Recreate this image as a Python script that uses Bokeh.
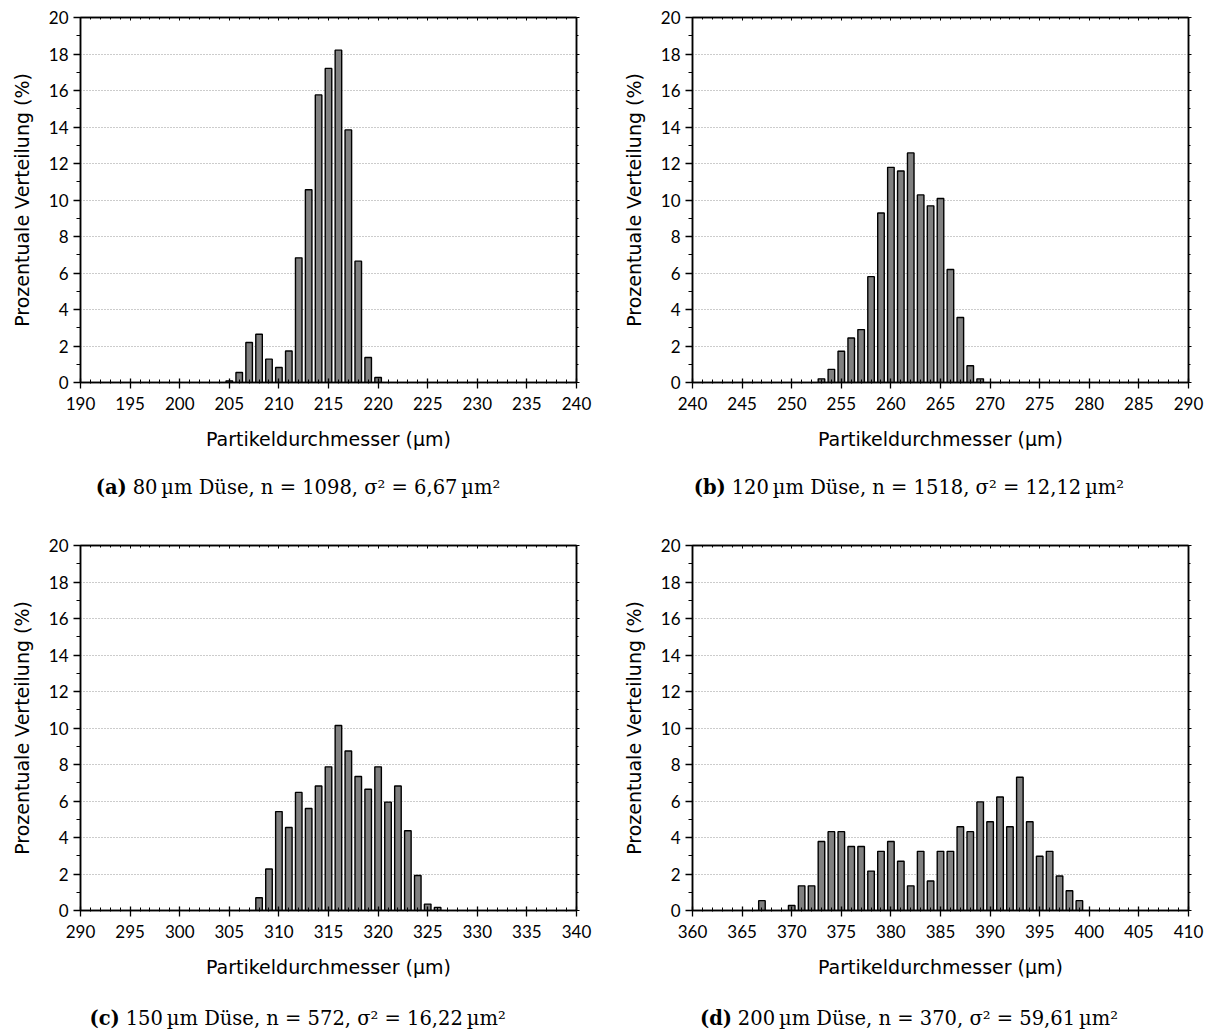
from bokeh.plotting import figure
from bokeh.models import (Range1d, SingleIntervalTicker, LinearAxis, Label)
from bokeh.layouts import column, row
from bokeh.embed import file_html
from bokeh.resources import INLINE

# ---------------- data ----------------
x_a = [205, 206, 207, 208, 209, 210, 211, 212, 213, 214, 215, 216, 217, 218, 219, 220]
y_a = [0.09, 0.55, 2.19, 2.64, 1.28, 0.82, 1.73, 6.83, 10.56, 15.76, 17.21, 18.21,
       13.84, 6.65, 1.37, 0.27]

x_b = [253, 254, 255, 256, 257, 258, 259, 260, 261, 262, 263, 264, 265, 266, 267, 268, 269]
y_b = [0.20, 0.72, 1.71, 2.44, 2.90, 5.80, 9.29, 11.79, 11.59, 12.58, 10.28, 9.68,
       10.08, 6.19, 3.56, 0.92, 0.20]

x_c = [308, 309, 310, 311, 312, 313, 314, 315, 316, 317, 318, 319, 320, 321, 322,
       323, 324, 325, 326]
y_c = [0.70, 2.27, 5.42, 4.55, 6.47, 5.59, 6.82, 7.87, 10.14, 8.74, 7.34, 6.64,
       7.87, 5.94, 6.82, 4.37, 1.92, 0.35, 0.17]

x_d = [367, 370, 371, 372, 373, 374, 375, 376, 377, 378, 379, 380, 381, 382, 383,
       384, 385, 386, 387, 388, 389, 390, 391, 392, 393, 394, 395, 396, 397, 398, 399]
y_d = [0.54, 0.27, 1.35, 1.35, 3.78, 4.32, 4.32, 3.51, 3.51, 2.16, 3.24, 3.78, 2.70,
       1.35, 3.24, 1.62, 3.24, 3.24, 4.59, 4.32, 5.95, 4.86, 6.22, 4.59, 7.30, 4.86,
       2.97, 3.24, 1.89, 1.08, 0.54]

x_starts = [190, 240, 290, 360]
cap_bold = ["(a)", "(b)", "(c)", "(d)"]
cap_text = ["80\u2009µm Düse, n = 1098, σ² = 6,67\u2009µm²",
            "120\u2009µm Düse, n = 1518, σ² = 12,12\u2009µm²",
            "150\u2009µm Düse, n = 572, σ² = 16,22\u2009µm²",
            "200\u2009µm Düse, n = 370, σ² = 59,61\u2009µm²"]
x_label = "Partikeldurchmesser (µm)"
y_label = "Prozentuale Verteilung (%)"

SANS = "Lato"
LABEL_FONT = "DejaVu Sans"
SERIF = "DejaVu Serif"
CAP_SIZE = 19.5
FRAME_H = 365
FRAME_W = 496
PLOT_H = 465

# approximate DejaVu Serif advance widths (em) for centring the two-part captions
W_REG = {" ": 0.318, "\u2009": 0.2, "µ": 0.64, "m": 0.948, "D": 0.77, "ü": 0.64,
         "s": 0.513, "e": 0.592, ",": 0.318, "n": 0.64, "=": 0.838, "σ": 0.612,
         "²": 0.401}
W_BOLD = {"(": 0.473, ")": 0.473, "a": 0.675, "b": 0.716, "c": 0.593, "d": 0.716}


def text_w(s, table):
    return sum(table.get(ch, 0.636) for ch in s) * CAP_SIZE


def make(xs, ys, x0, left_b):
    right_b = 608 - FRAME_W - left_b
    p = figure(width=608, height=PLOT_H, output_backend="svg", toolbar_location=None,
               x_range=Range1d(x0, x0 + 50), y_range=Range1d(0, 20),
               min_border_left=left_b, min_border_right=right_b,
               min_border_top=17, min_border_bottom=PLOT_H - 17 - FRAME_H,
               background_fill_color="white", border_fill_color="white")
    p.vbar(x=xs, top=ys, width=0.66, fill_color="#808080",
           line_color="black", line_width=1.4)

    p.xgrid.visible = False
    p.ygrid.ticker = SingleIntervalTicker(interval=2, num_minor_ticks=2)
    p.ygrid.grid_line_color = "#999999"
    p.ygrid.grid_line_dash = "1 2"
    p.ygrid.grid_line_width = 1

    p.outline_line_color = "black"
    p.outline_line_width = 1.5
    p.outline_line_alpha = 1

    xa = p.xaxis[0]
    xa.ticker = SingleIntervalTicker(interval=5, num_minor_ticks=5)
    xa.axis_label = x_label
    xa.major_tick_in = 4
    xa.major_tick_out = 6
    xa.minor_tick_in = 3
    xa.minor_tick_out = 1
    xa.major_label_standoff = 8
    xa.axis_label_standoff = 15

    ya = p.yaxis[0]
    ya.ticker = SingleIntervalTicker(interval=2, num_minor_ticks=2)
    ya.axis_label = y_label
    ya.major_tick_in = 0
    ya.major_tick_out = 7
    ya.minor_tick_in = 0
    ya.minor_tick_out = 4
    ya.major_label_standoff = 5
    ya.axis_label_standoff = 13

    for ax in (xa, ya):
        ax.axis_line_color = "black"
        ax.axis_line_width = 1.5
        ax.major_tick_line_color = "black"
        ax.minor_tick_line_color = "black"
        ax.major_tick_line_width = 1.3
        ax.minor_tick_line_width = 1
        ax.major_label_text_font = SANS
        ax.major_label_text_font_size = "17px"
        ax.major_label_text_color = "black"
        ax.axis_label_text_font = LABEL_FONT
        ax.axis_label_text_font_size = "19px"
        ax.axis_label_text_font_style = "normal"
        ax.axis_label_text_color = "black"

    top = LinearAxis(ticker=SingleIntervalTicker(interval=5, num_minor_ticks=5),
                     major_label_text_font_size="1px", major_label_text_color=None,
                     major_label_standoff=0,
                     major_tick_in=3, major_tick_out=0, minor_tick_in=2, minor_tick_out=0,
                     axis_line_color="black", axis_line_width=1.5)
    right = LinearAxis(ticker=SingleIntervalTicker(interval=2, num_minor_ticks=2),
                       major_label_text_font_size="1px", major_label_text_color=None,
                       major_label_standoff=0,
                       major_tick_in=0, major_tick_out=3, minor_tick_in=0, minor_tick_out=2,
                       axis_line_color="black", axis_line_width=1.5)
    p.add_layout(top, "above")
    p.add_layout(right, "right")
    return p


def caption(bold, text, h, baseline_from_top, center_px):
    c = figure(width=608, height=h, output_backend="svg", toolbar_location=None,
               x_range=Range1d(0, 608), y_range=Range1d(0, h),
               x_axis_type=None, y_axis_type=None,
               min_border=0, min_border_left=0, min_border_right=0,
               min_border_top=0, min_border_bottom=0,
               outline_line_color=None, background_fill_color="white",
               border_fill_color="white")
    c.grid.visible = False
    bw = text_w(bold, W_BOLD)
    gap = 0.3 * CAP_SIZE
    tw = text_w(text, W_REG)
    total = bw + gap + tw
    split = center_px - total / 2 + bw
    yb = h - baseline_from_top
    c.add_layout(Label(x=split, y=yb, text=bold, text_font=SERIF,
                       text_font_size=f"{CAP_SIZE}px", text_font_style="bold",
                       text_align="right", text_baseline="alphabetic", text_color="black"))
    c.add_layout(Label(x=split + gap, y=yb, text=text, text_font=SERIF,
                       text_font_size=f"{CAP_SIZE}px", text_align="left",
                       text_baseline="alphabetic", text_color="black"))
    return c


pa = make(x_a, y_a, x_starts[0], 80)
pb = make(x_b, y_b, x_starts[1], 84)
pc = make(x_c, y_c, x_starts[2], 80)
pd = make(x_d, y_d, x_starts[3], 84)

ca = caption(cap_bold[0], cap_text[0], 63, 22, 296)
cb = caption(cap_bold[1], cap_text[1], 63, 22, 907 - 608)
cc = caption(cap_bold[2], cap_text[2], 37, 25, 296)
cd = caption(cap_bold[3], cap_text[3], 37, 25, 907 - 608)

layout = column(row(pa, pb), row(ca, cb), row(pc, pd), row(cc, cd))
open("out.html", "w").write(file_html(layout, INLINE))
